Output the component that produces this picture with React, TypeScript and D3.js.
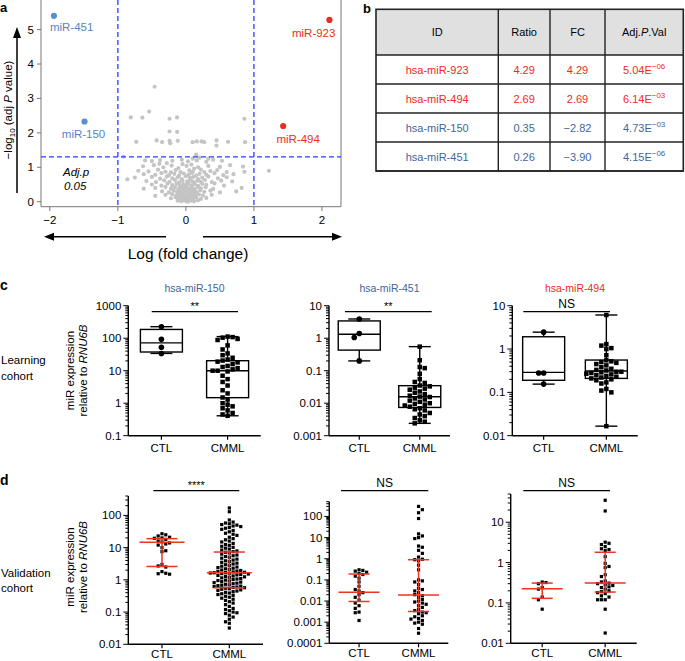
import * as d3 from "d3";

const FONT = "'Liberation Sans', Arial, Helvetica, sans-serif";
const RED = "#ee2a22";
const BLUE_DOT = "#5b8fcc";
const BLUE_LBL = "#5585c0";
const BLUE_TXT = "#41669b";
const DASH_BLUE = "#2a3cff";
const LINE_RED = "#ee3322";

// ---------- a: volcano ----------
const volcanoGray: [number, number][] = [
  [-0.46, 3.34], [-0.54, 2.62], [-0.81, 2.45], [-0.64, 2.44], [-0.24, 2.41], [-0.13, 2.45], [0.86, 2.41],
  [-0.24, 2.04], [-0.13, 2.03], [-0.73, 1.74], [-0.43, 1.78], [-0.35, 1.73], [-0.24, 1.77], [-0.23, 1.7],
  [-0.12, 1.77], [0.1, 1.73], [0.16, 1.75], [0.23, 1.75], [0.27, 1.73], [0.45, 1.78], [0.45, 1.63],
  [0.62, 1.74], [0.87, 1.73], [0.15, 1.37], [-0.92, 1.31],
  [1.22, 0.9], [-0.86, 0.65], [0.74, 0.3], [0.86, 0.87], [0.82, 0.4],
  [-0.6, 1.2], [-0.5, 1.18], [-0.38, 1.21], [-0.2, 1.19], [-0.06, 1.22], [0.03, 1.17], [0.16, 1.2],
  [0.3, 1.16], [0.4, 1.22], [0.53, 1.19], [0.2, 1.28], [-0.28, 1.12], [0.1, 1.25], [0.33, 1.25],
  [-0.63, 1.03], [-0.47, 1.06], [-0.33, 1.0], [-0.21, 1.05], [-0.11, 0.98], [0.01, 1.04], [0.08, 1.08],
  [0.18, 1.0], [0.33, 1.04], [0.5, 1.01], [0.65, 1.06], [0.84, 1.02], [-0.05, 1.09], [0.12, 0.96], [-0.39, 1.1],
  [-0.7, 0.9], [-0.55, 0.88], [-0.41, 0.93], [-0.3, 0.87], [-0.15, 0.92], [-0.08, 0.86], [0.05, 0.91],
  [0.1, 0.87], [0.22, 0.93], [0.36, 0.89], [0.46, 0.92], [0.6, 0.86], [-0.22, 0.85], [0.27, 0.86],
  [-0.62, 0.8], [-0.45, 0.78], [-0.36, 0.83], [-0.25, 0.77], [-0.17, 0.81], [-0.1, 0.76], [-0.03, 0.82],
  [0.04, 0.79], [0.09, 0.84], [0.15, 0.76], [0.2, 0.81], [0.3, 0.78], [0.42, 0.83], [0.55, 0.77], [0.7, 0.8],
  [-0.75, 0.7], [-0.5, 0.72], [-0.38, 0.67], [-0.28, 0.73], [-0.2, 0.68], [-0.12, 0.71], [-0.06, 0.66],
  [0, 0.74], [0.06, 0.69], [0.11, 0.72], [0.18, 0.66], [0.24, 0.7], [0.33, 0.73], [0.47, 0.68], [0.6, 0.71],
  [-0.58, 0.6], [-0.44, 0.57], [-0.32, 0.62], [-0.24, 0.58], [-0.16, 0.63], [-0.1, 0.56], [-0.05, 0.61],
  [0.02, 0.59], [0.07, 0.64], [0.12, 0.56], [0.17, 0.61], [0.22, 0.58], [0.28, 0.63], [0.38, 0.57],
  [0.52, 0.61], [0.68, 0.59],
  [-0.5, 0.5], [-0.36, 0.47], [-0.27, 0.53], [-0.2, 0.48], [-0.14, 0.52], [-0.09, 0.46], [-0.04, 0.51],
  [0, 0.48], [0.04, 0.54], [0.08, 0.47], [0.13, 0.51], [0.18, 0.46], [0.24, 0.52], [0.3, 0.49], [0.42, 0.53], [0.56, 0.47],
  [-0.45, 0.4], [-0.3, 0.43], [-0.22, 0.38], [-0.16, 0.42], [-0.11, 0.36], [-0.07, 0.41], [-0.03, 0.38],
  [0.01, 0.44], [0.05, 0.37], [0.09, 0.41], [0.13, 0.36], [0.17, 0.43], [0.22, 0.39], [0.29, 0.42], [0.4, 0.37], [-0.62, 0.38],
  [-0.35, 0.3], [-0.25, 0.27], [-0.18, 0.32], [-0.13, 0.28], [-0.09, 0.33], [-0.05, 0.26], [-0.02, 0.31],
  [0.02, 0.28], [0.05, 0.34], [0.08, 0.26], [0.12, 0.31], [0.16, 0.27], [0.21, 0.33], [0.27, 0.29], [0.36, 0.32], [0.5, 0.27],
  [-0.3, 0.2], [-0.2, 0.22], [-0.14, 0.17], [-0.1, 0.23], [-0.06, 0.18], [-0.03, 0.21], [0, 0.16],
  [0.03, 0.24], [0.06, 0.19], [0.1, 0.22], [0.14, 0.17], [0.19, 0.21], [0.25, 0.18], [0.38, 0.2], [-0.45, 0.17],
  [-0.22, 0.1], [-0.15, 0.13], [-0.1, 0.08], [-0.06, 0.12], [-0.03, 0.07], [0, 0.11], [0.03, 0.06],
  [0.06, 0.13], [0.1, 0.09], [0.15, 0.12], [0.22, 0.08], [0.3, 0.11],
  [-0.12, 0.03], [-0.07, 0.01], [-0.03, 0.04], [0, 0.02], [0.03, 0.0], [0.07, 0.03], [0.12, 0.01], [0.18, 0.04],
  [-0.01, 0.14], [0.04, 0.17], [0.09, 0.15], [-0.05, 0.24], [0.01, 0.34], [0.06, 0.3], [-0.08, 0.05],
  [0.11, 0.04], [0.05, 0.09], [-0.02, 0.44], [0.03, 0.52], [0.1, 0.58], [-0.12, 0.15], [0.14, 0.25],
  [0.08, 0.36], [-0.07, 0.29],
];
const hitNames = ["miR-451", "miR-150", "miR-923", "miR-494"];
const hitLogFC = [-1.94, -1.49, 2.11, 1.43];
const hitNegLogP = [5.4, 2.33, 5.28, 2.2];
const hitUp = [false, false, true, true];
const xTicksA = [-2, -1, 0, 1, 2];
const yTicksA = [0, 1, 2, 3, 4, 5];
const fcCut = 1;
const pCut = -Math.log10(0.05);

// ---------- b: table ----------
const tableHeader = ["ID", "Ratio", "FC", "Adj."];
const tableIds = ["hsa-miR-923", "hsa-miR-494", "hsa-miR-150", "hsa-miR-451"];
const tableRatio = ["4.29", "2.69", "0.35", "0.26"];
const tableFC = ["4.29", "2.69", "\u22122.82", "\u22123.90"];
const tablePMant = ["5.04E", "6.14E", "4.73E", "4.15E"];
const tablePExp = ["\u221206", "\u221203", "\u221203", "\u221206"];
const tableUp = [true, true, false, false];

// ---------- c: learning cohort (box plots: min, q1, median, q3, max) ----------
const groups = ["CTL", "CMML"];
const c150Ctl = [226, 92.5, 52.5, 34];
const c150Cmml = [112, 108, 104, 95, 88, 60, 45, 34, 30, 25, 22, 20.5, 19, 18, 16, 14, 13, 12, 11, 10, 10, 9.5,
  7, 5.5, 4.5, 3.5, 2.5, 2, 1.5, 1.3, 1.0, 0.9, 0.8, 0.7, 0.6, 0.5, 0.45, 0.41];
const c150CtlStats = [34, 37.6, 72, 186, 226];
const c150CmmlStats = [0.41, 1.48, 10, 20.3, 112];
const c451Ctl = [3.9, 1.4, 1.05, 0.2];
const c451Cmml = [0.55, 0.21, 0.13, 0.12, 0.08, 0.055, 0.045, 0.042, 0.035, 0.033, 0.03, 0.028, 0.026, 0.023,
  0.021, 0.019, 0.017, 0.016, 0.0155, 0.014, 0.013, 0.012, 0.011, 0.01, 0.0095, 0.009, 0.0085, 0.0078, 0.007,
  0.0065, 0.006, 0.005, 0.0045, 0.004, 0.0035, 0.003, 0.0027, 0.0024];
const c451CtlStats = [0.2, 0.43, 1.32, 3.4, 3.9];
const c451CmmlStats = [0.0024, 0.0074, 0.0158, 0.0346, 0.55];
const c494Ctl = [2.45, 0.28, 0.28, 0.155];
const c494Cmml = [6.1, 1.3, 1.2, 1.05, 1.0, 0.72, 0.55, 0.52, 0.5, 0.48, 0.45, 0.42, 0.38, 0.35, 0.33, 0.32, 0.3,
  0.3, 0.29, 0.28, 0.27, 0.26, 0.25, 0.24, 0.23, 0.22, 0.21, 0.2, 0.19, 0.17, 0.16, 0.12, 0.11, 0.1, 0.0166];
const c494CtlStats = [0.155, 0.19, 0.29, 1.92, 2.45];
const c494CmmlStats = [0.0166, 0.21, 0.31, 0.557, 6.1];

// ---------- d: validation cohort (scatter: q1, median, q3) ----------
const d150Ctl = [27, 25, 23, 21, 20, 19.5, 18, 16, 15, 14, 13, 12, 10, 8, 7.5, 3, 2.7, 2.5, 1.8, 1.6, 1.5, 1.55];
const d150Cmml = [170, 130, 72, 62, 58, 55, 52, 50, 47, 45, 42, 40, 37, 34, 31, 28, 26, 24, 21, 19, 17.5, 16, 15,
  13.5, 12.5, 11.8, 11, 10.2, 9.6, 9, 8.4, 7.9, 7.5, 7.2, 6.8, 6.3, 5.9, 5.6, 5.3, 5, 4.7, 4.4, 4.1, 3.9, 3.7,
  3.5, 3.3, 3.1, 2.95, 2.8, 2.65, 2.5, 2.4, 2.3, 2.2, 2.1, 2.02, 1.95, 1.88, 1.82, 1.76, 1.72, 1.68, 1.66, 1.63,
  1.6, 1.56, 1.52, 1.47, 1.42, 1.37, 1.32, 1.28, 1.24, 1.2, 1.15, 1.1, 1.06, 1.02, 0.98, 0.95, 0.92, 0.88, 0.85,
  0.82, 0.79, 0.76, 0.73, 0.7, 0.68, 0.66, 0.64, 0.62, 0.6, 0.58, 0.57, 0.55, 0.53, 0.51, 0.49, 0.47, 0.45, 0.43,
  0.41, 0.39, 0.37, 0.35, 0.33, 0.31, 0.29, 0.27, 0.25, 0.23, 0.21, 0.19, 0.17, 0.15, 0.13, 0.12, 0.11, 0.1,
  0.095, 0.09, 0.08, 0.07, 0.06, 0.05, 0.045, 0.032];
const d150CtlStats = [2.6, 14.8, 19];
const d150CmmlStats = [0.57, 1.66, 7.3];
const d451Ctl = [0.3, 0.28, 0.26, 0.23, 0.2, 0.18, 0.15, 0.12, 0.08, 0.05, 0.035, 0.03, 0.025, 0.02, 0.015,
  0.011, 0.008, 0.006, 0.0045, 0.003, 0.0028, 0.0012];
const d451Cmml = [300, 210, 150, 80, 15, 12, 10, 9, 4, 3.5, 2.5, 1.8, 1.2, 0.95, 0.9, 0.8, 0.5, 0.3, 0.1, 0.09,
  0.08, 0.06, 0.04, 0.035, 0.03, 0.025, 0.02, 0.018, 0.015, 0.012, 0.01, 0.009, 0.008, 0.007, 0.006, 0.005,
  0.004, 0.0035, 0.003, 0.0028, 0.0025, 0.002, 0.0018, 0.0015, 0.0014, 0.0012, 0.001, 0.0009, 0.0008, 0.0005, 0.0003];
const d451CtlStats = [0.0095, 0.026, 0.19];
const d451CmmlStats = [0.0032, 0.0195, 0.9];
const d494Ctl = [0.33, 0.32, 0.3, 0.24, 0.22, 0.14, 0.12, 0.07];
const d494Cmml = [35, 19, 3.2, 3.0, 2.8, 2.5, 2.2, 2.1, 2.0, 1.4, 0.95, 0.8, 0.75, 0.5, 0.45, 0.35, 0.33, 0.31,
  0.3, 0.28, 0.27, 0.25, 0.24, 0.22, 0.2, 0.19, 0.18, 0.17, 0.15, 0.14, 0.12, 0.12, 0.12, 0.07, 0.018];
const d494CtlStats = [0.13, 0.226, 0.31];
const d494CmmlStats = [0.186, 0.31, 1.8];

// simple beeswarm: points go into columns, first free slot nearest the centre
function swarm(values: number[], y: (v: number) => number, cx: number, size: number, dx: number) {
  const pts = values.map((v) => y(v)).sort((a, b) => a - b);
  const placed: { x: number; y: number; col: number }[] = [];
  pts.forEach((py, i) => {
    let col = 0;
    outer: for (let k = 0; k < 60; k++) {
      const cands = k === 0 ? [0] : i % 2 ? [k, -k] : [-k, k];
      for (const c of cands) {
        if (!placed.some((q) => q.col === c && Math.abs(q.y - py) < size)) {
          col = c;
          break outer;
        }
      }
    }
    placed.push({ x: cx + col * dx, y: py, col });
  });
  return placed;
}

function Volcano() {
  const x = d3.scaleLinear().domain([-2.13, 2.28]).range([41, 341]);
  const y = d3.scaleLinear().domain([-0.145, 5.86]).range([206.7, 0]);
  const labelPos = [
    { dx: -4, dy: 15, anchor: "start" },
    { dx: -1, dy: 16.5, anchor: "middle" },
    { dx: 6, dy: 17, anchor: "end" },
    { dx: 15, dy: 17, anchor: "middle" },
  ];
  return (
    <g fontFamily={FONT}>
      <text x={0} y={12} fontSize={13} fontWeight="bold">a</text>
      <line x1={41} x2={41} y1={0} y2={206.7} stroke="#777" strokeWidth={1} />
      <line x1={341} x2={341} y1={0} y2={206.7} stroke="#777" strokeWidth={1} />
      <line x1={41} x2={341} y1={206.7} y2={206.7} stroke="#777" strokeWidth={1} />
      {volcanoGray.map((d, i) => (
        <circle key={i} cx={x(d[0])} cy={y(d[1])} r={2.1} fill="#c4c4c4" />
      ))}
      {[-fcCut, fcCut].map((v) => (
        <line key={v} x1={x(v)} x2={x(v)} y1={0} y2={206.7} stroke={DASH_BLUE} strokeWidth={1.3} strokeDasharray="5,3" />
      ))}
      <line x1={41} x2={341} y1={y(pCut)} y2={y(pCut)} stroke={DASH_BLUE} strokeWidth={1.3} strokeDasharray="5,3" />
      {hitNames.map((n, i) => {
        const cx = x(hitLogFC[i]);
        const cy = y(hitNegLogP[i]);
        const p = labelPos[i];
        return (
          <g key={n}>
            <circle cx={cx} cy={cy} r={3.1} fill={hitUp[i] ? RED : BLUE_DOT} />
            <text x={cx + p.dx} y={cy + p.dy} fontSize={11.5} textAnchor={p.anchor as any} fill={hitUp[i] ? RED : BLUE_LBL}>
              {n}
            </text>
          </g>
        );
      })}
      <text x={63} y={176} fontSize={11.5} fontStyle="italic">Adj.p</text>
      <text x={64} y={189.5} fontSize={11.5} fontStyle="italic">0.05</text>
      {yTicksA.map((t) => (
        <g key={t}>
          <line x1={37} x2={41} y1={y(t)} y2={y(t)} stroke="#777" />
          <text x={34} y={y(t) + 4} fontSize={11.5} textAnchor="end">{t}</text>
        </g>
      ))}
      {xTicksA.map((t) => (
        <g key={t}>
          <line x1={x(t)} x2={x(t)} y1={206.7} y2={211} stroke="#777" />
          <text x={x(t)} y={224} fontSize={11.5} textAnchor="middle">{t < 0 ? "\u2212" + Math.abs(t) : t}</text>
        </g>
      ))}
      {/* arrows */}
      <line x1={52} x2={166} y1={236.7} y2={236.7} stroke="#000" strokeWidth={1.5} />
      <path d="M44,236.7 L54,232.7 L54,240.7 Z" fill="#000" />
      <line x1={203} x2={333} y1={236.7} y2={236.7} stroke="#000" strokeWidth={1.5} />
      <path d="M342,236.7 L332,232.7 L332,240.7 Z" fill="#000" />
      <text x={188} y={259} fontSize={15.5} textAnchor="middle">Log (fold change)</text>
      <line x1={17} x2={17} y1={36} y2={193} stroke="#000" strokeWidth={1.5} />
      <path d="M17,27 L13,38 L21,38 Z" fill="#000" />
      <text transform="translate(11.5,110) rotate(-90)" fontSize={11.5} textAnchor="middle">
        {"\u2212log"}
        <tspan dy={3} fontSize={8}>10</tspan>
        <tspan dy={-3}> (adj </tspan>
        <tspan fontStyle="italic">P</tspan>
        <tspan> value)</tspan>
      </text>
    </g>
  );
}

function Table() {
  const colX = [376, 498.3, 550, 605, 683.3];
  const rows = d3.range(tableIds.length);
  const rowY = (i: number) => 55 + i * 29;
  const mid = (c: number) => (colX[c] + colX[c + 1]) / 2;
  return (
    <g fontFamily={FONT} fontSize={11}>
      <text x={363} y={13} fontSize={13} fontWeight="bold">b</text>
      <rect x={376} y={9.3} width={307.3} height={45.7} fill="#e0e0e0" />
      {tableHeader.map((h, c) => (
        <text key={h} x={mid(c)} y={36} textAnchor="middle">
          {h}
          {c === 3 ? (
            <>
              <tspan fontStyle="italic">P</tspan>.Val
            </>
          ) : null}
        </text>
      ))}
      {rows.map((i) => {
        const col = tableUp[i] ? RED : BLUE_TXT;
        const by = rowY(i) + 18.5;
        return (
          <g key={i} fill={col}>
            <text x={mid(0)} y={by} textAnchor="middle">{tableIds[i]}</text>
            <text x={mid(1)} y={by} textAnchor="middle">{tableRatio[i]}</text>
            <text x={mid(2)} y={by} textAnchor="middle">{tableFC[i]}</text>
            <text x={mid(3)} y={by} textAnchor="middle">
              {tablePMant[i]}
              <tspan dy={-5} fontSize={8}>{tablePExp[i]}</tspan>
            </text>
          </g>
        );
      })}
      {d3.range(tableIds.length + 1).map((i) => (
        <line key={"h" + i} x1={376} x2={683.3} y1={rowY(i)} y2={rowY(i)} stroke="#222" strokeWidth={1.4} />
      ))}
      {colX.slice(1, 4).map((cx) => (
        <line key={cx} x1={cx} x2={cx} y1={9.3} y2={171} stroke="#222" strokeWidth={1.4} />
      ))}
      <rect x={376} y={9.3} width={307.3} height={161.7} fill="none" stroke="#222" strokeWidth={1.6} />
    </g>
  );
}

type PanelProps = {
  x0: number;
  x1: number;
  yTop: number;
  yBottom: number;
  domain: [number, number];
  labeled: number[];
  ctl: number[];
  cmml: number[];
  ctlStats: number[];
  cmmlStats: number[];
  kind: "box" | "dot";
  title?: string;
  titleColor?: string;
  sig: { label: string; a: number; b: number; y: number };
  size: number;
  dx: number;
  capHalf: number;
  medHalf: number;
  catDy: number;
};

function LogPanel(p: PanelProps) {
  const y = d3.scaleLog().domain(p.domain).range([p.yBottom, p.yTop]);
  const x = d3.scalePoint().domain(groups).range([p.x0, p.x1]).padding(0.5);
  const ticks = y.ticks();
  const isMajor = (t: number) => Math.abs(Math.log10(t) - Math.round(Math.log10(t))) < 1e-6;
  const sets = [
    { name: "CTL", vals: p.ctl, stats: p.ctlStats, circle: p.kind === "box" },
    { name: "CMML", vals: p.cmml, stats: p.cmmlStats, circle: false },
  ];
  const isAst = p.sig.label.startsWith("*");
  return (
    <g fontFamily={FONT}>
      {p.title ? (
        <text x={(x("CTL")! + x("CMML")!) / 2} y={291.5} fontSize={10.5} textAnchor="middle" fill={p.titleColor}>
          {p.title}
        </text>
      ) : null}
      <line x1={p.sig.a} x2={p.sig.b} y1={p.sig.y} y2={p.sig.y} stroke="#000" strokeWidth={1.2} />
      <text
        x={(p.sig.a + p.sig.b) / 2}
        y={p.sig.y - (isAst ? 1.5 : 4)}
        fontSize={isAst ? 11 : 12}
        textAnchor="middle"
      >
        {p.sig.label}
      </text>
      {/* y axis */}
      <line x1={p.x0} x2={p.x0} y1={p.yTop} y2={p.yBottom} stroke="#000" strokeWidth={1.4} />
      {ticks.map((t, i) => (
        <line key={i} x1={p.x0 - (isMajor(t) ? 5 : 3)} x2={p.x0} y1={y(t)} y2={y(t)} stroke="#000" strokeWidth={1} />
      ))}
      {p.labeled.map((t) => (
        <text key={t} x={p.x0 - 7} y={y(t) + 4} fontSize={11.5} textAnchor="end">
          {String(t)}
        </text>
      ))}
      {/* x axis */}
      <line x1={p.x0} x2={p.x1} y1={p.yBottom} y2={p.yBottom} stroke="#000" strokeWidth={1.4} />
      {groups.map((g) => (
        <g key={g}>
          <line x1={x(g)} x2={x(g)} y1={p.yBottom} y2={p.yBottom + 4} stroke="#000" strokeWidth={1.2} />
          <text x={x(g)} y={p.yBottom + p.catDy} fontSize={11.5} textAnchor="middle">{g}</text>
        </g>
      ))}
      {sets.map((s) => {
        const cx = x(s.name)!;
        const pts = swarm(s.vals, (v) => y(v), cx, p.size + 0.4, p.dx);
        if (p.kind === "box") {
          const [mn, q1, md, q3, mx] = s.stats.map((v) => y(v));
          return (
            <g key={s.name}>
              <line x1={cx} x2={cx} y1={mx} y2={q3} stroke="#000" strokeWidth={1.4} />
              <line x1={cx} x2={cx} y1={q1} y2={mn} stroke="#000" strokeWidth={1.4} />
              <line x1={cx - p.capHalf} x2={cx + p.capHalf} y1={mx} y2={mx} stroke="#000" strokeWidth={1.4} />
              <line x1={cx - p.capHalf} x2={cx + p.capHalf} y1={mn} y2={mn} stroke="#000" strokeWidth={1.4} />
              <rect x={cx - p.medHalf} y={q3} width={2 * p.medHalf} height={q1 - q3} fill="none" stroke="#000" strokeWidth={1.4} />
              <line x1={cx - p.medHalf} x2={cx + p.medHalf} y1={md} y2={md} stroke="#000" strokeWidth={1.4} />
              {pts.map((q, i) =>
                s.circle ? (
                  <circle key={i} cx={q.x} cy={q.y} r={2.8} fill="#000" />
                ) : (
                  <rect key={i} x={q.x - p.size / 2} y={q.y - p.size / 2} width={p.size} height={p.size} fill="#000" />
                )
              )}
            </g>
          );
        }
        const [q1, md, q3] = s.stats.map((v) => y(v));
        return (
          <g key={s.name}>
            {pts.map((q, i) => (
              <rect key={i} x={q.x - p.size / 2} y={q.y - p.size / 2} width={p.size} height={p.size} fill="#000" />
            ))}
            <line x1={cx} x2={cx} y1={q3} y2={q1} stroke={LINE_RED} strokeWidth={1.5} />
            <line x1={cx - p.capHalf} x2={cx + p.capHalf} y1={q3} y2={q3} stroke={LINE_RED} strokeWidth={1.5} />
            <line x1={cx - p.capHalf} x2={cx + p.capHalf} y1={q1} y2={q1} stroke={LINE_RED} strokeWidth={1.5} />
            <line x1={cx - p.medHalf} x2={cx + p.medHalf} y1={md} y2={md} stroke={LINE_RED} strokeWidth={1.5} />
          </g>
        );
      })}
    </g>
  );
}

function YLabel({ cy }: { cy: number }) {
  return (
    <g fontFamily={FONT} fontSize={11.5}>
      <text transform={`translate(74,${cy}) rotate(-90)`} textAnchor="middle">miR expression</text>
      <text transform={`translate(86.5,${cy}) rotate(-90)`} textAnchor="middle">
        relative to <tspan fontStyle="italic">RNU6B</tspan>
      </text>
    </g>
  );
}

export default function App() {
  const boxStyle = { size: 4.5, dx: 5, capHalf: 11, medHalf: 21, catDy: 16.5 };
  return (
    <div style={{ position: "absolute", left: 0, top: 0 }}>
      <svg width={685} height={661} style={{ display: "block", background: "#fff" }}>
        <Volcano />
        <Table />
        <g fontFamily={FONT}>
          <text x={0} y={290} fontSize={14} fontWeight="bold">c</text>
          <text x={1} y={364} fontSize={11.5}>Learning</text>
          <text x={1} y={379.5} fontSize={11.5}>cohort</text>
          <text x={0} y={485} fontSize={14} fontWeight="bold">d</text>
          <text x={1} y={576.5} fontSize={11.5}>Validation</text>
          <text x={1} y={591.5} fontSize={11.5}>cohort</text>
        </g>
        <YLabel cy={370.5} />
        <YLabel cy={567} />
        <LogPanel
          x0={128.3} x1={260.7} yTop={305.7} yBottom={435.7} domain={[0.1, 1000]} labeled={[0.1, 1, 10, 100, 1000]}
          ctl={c150Ctl} cmml={c150Cmml} ctlStats={c150CtlStats} cmmlStats={c150CmmlStats} kind="box"
          title="hsa-miR-150" titleColor={BLUE_TXT} sig={{ label: "**", a: 151.7, b: 238, y: 311.7 }} {...boxStyle}
        />
        <LogPanel
          x0={329} x1={450} yTop={305.7} yBottom={435.7} domain={[0.001, 10]} labeled={[0.001, 0.01, 0.1, 1, 10]}
          ctl={c451Ctl} cmml={c451Cmml} ctlStats={c451CtlStats} cmmlStats={c451CmmlStats} kind="box"
          title="hsa-miR-451" titleColor={BLUE_TXT} sig={{ label: "**", a: 345, b: 431.7, y: 311.7 }} {...boxStyle}
        />
        <LogPanel
          x0={512.3} x1={637.7} yTop={305.7} yBottom={435.7} domain={[0.01, 10]} labeled={[0.01, 0.1, 1, 10]}
          ctl={c494Ctl} cmml={c494Cmml} ctlStats={c494CtlStats} cmmlStats={c494CmmlStats} kind="box"
          title="hsa-miR-494" titleColor={RED} sig={{ label: "NS", a: 523.3, b: 610, y: 311.7 }} {...boxStyle}
        />
        <LogPanel
          x0={128.3} x1={263} yTop={496} yBottom={644.3} domain={[0.01, 400]} labeled={[0.01, 0.1, 1, 10, 100]}
          ctl={d150Ctl} cmml={d150Cmml} ctlStats={d150CtlStats} cmmlStats={d150CmmlStats} kind="dot"
          sig={{ label: "****", a: 153.3, b: 239.3, y: 490.7 }} size={3.2} dx={3.8} capHalf={15.5} medHalf={22.5}
          catDy={13.5}
        />
        <LogPanel
          x0={329.3} x1={448.3} yTop={501.7} yBottom={643.3} domain={[0.0001, 500]}
          labeled={[0.0001, 0.001, 0.01, 0.1, 1, 10, 100]}
          ctl={d451Ctl} cmml={d451Cmml} ctlStats={d451CtlStats} cmmlStats={d451CmmlStats} kind="dot"
          sig={{ label: "NS", a: 341, b: 428.3, y: 490.7 }} size={3.2} dx={3.8} capHalf={10.5} medHalf={20.5}
          catDy={14}
        />
        <LogPanel
          x0={510.7} x1={636.7} yTop={494} yBottom={643.3} domain={[0.01, 50]} labeled={[0.01, 0.1, 1, 10]}
          ctl={d494Ctl} cmml={d494Cmml} ctlStats={d494CtlStats} cmmlStats={d494CmmlStats} kind="dot"
          sig={{ label: "NS", a: 523.3, b: 610, y: 490.7 }} size={3.2} dx={3.8} capHalf={10.5} medHalf={20.5}
          catDy={14}
        />
      </svg>
    </div>
  );
}
